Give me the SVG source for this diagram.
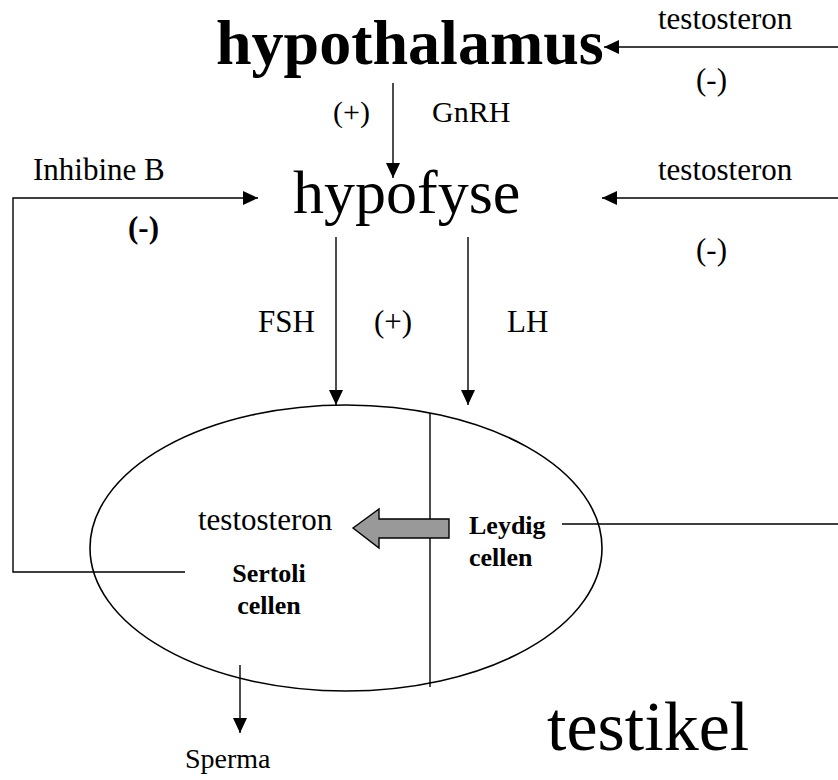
<svg xmlns="http://www.w3.org/2000/svg" width="838" height="780" viewBox="0 0 838 780">
  <style>
    text { font-family: "Liberation Serif", "Times New Roman", serif; fill: #000; }
    .lbl { font-size: 31px; }
    .bold { font-weight: bold; }
    .cell { font-size: 26px; font-weight: bold; }
    .big { font-size: 62px; }
    .line { stroke: #000; stroke-width: 1.4; fill: none; }
    .arr { stroke: #000; stroke-width: 1.4; fill: none; marker-end: url(#head); }
  </style>
  <defs>
    <marker id="head" markerUnits="userSpaceOnUse" markerWidth="16" markerHeight="14" refX="15" refY="7" orient="auto">
      <path d="M0,0 L15,7 L0,14 Z" fill="#000"/>
    </marker>
  </defs>

  <!-- hypothalamus -->
  <g id="hypothalamus">
    <text x="216" y="64" class="bold" style="font-size:64px">hypothalamus</text>
  </g>

  <!-- hypofyse -->
  <g id="hypofyse">
    <text x="293" y="213" class="big">hypofyse</text>
  </g>

  <!-- testikel with Sertoli and Leydig compartments -->
  <g id="testikel">
    <ellipse cx="346" cy="548" rx="256" ry="143" fill="none" stroke="#000" stroke-width="1.6"/>
    <line x1="430" y1="413" x2="430" y2="687" class="line"/>
    <text x="547" y="750" style="font-size:70px">testikel</text>
  </g>

  <g id="sertoli">
    <text x="269" y="582" class="cell" text-anchor="middle">Sertoli</text>
    <text x="269" y="614" class="cell" text-anchor="middle">cellen</text>
  </g>

  <g id="leydig">
    <text x="469" y="534" class="cell">Leydig</text>
    <text x="469" y="566" class="cell">cellen</text>
  </g>

  <g id="testosteron-intern">
    <text x="198" y="530" class="lbl">testosteron</text>
    <polygon points="353,528 379,509 379,519 449,519 449,538 379,538 379,548" fill="#999" stroke="#000" stroke-width="1.4"/>
  </g>

  <g id="sperma">
    <text x="185" y="768" style="font-size:28px">Sperma</text>
  </g>

  <!-- connectors -->
  <g id="connectors">
    <!-- testosteron feedback to hypothalamus -->
    <line x1="838" y1="47" x2="604" y2="47" class="arr"/>
    <!-- GnRH -->
    <line x1="393" y1="83" x2="393" y2="178" class="arr"/>
    <!-- Inhibine B feedback from Sertoli cells -->
    <polyline points="185,572 13,572 13,198 258,198" class="arr"/>
    <!-- testosteron feedback to hypofyse (from Leydig cells) -->
    <polyline points="562,524 838,524" class="line"/>
    <line x1="838" y1="198" x2="602" y2="198" class="arr"/>
    <!-- FSH and LH -->
    <line x1="336" y1="237" x2="336" y2="405" class="arr"/>
    <line x1="468" y1="237" x2="468" y2="405" class="arr"/>
    <!-- sperm output -->
    <line x1="240" y1="665" x2="240" y2="733" class="arr"/>
  </g>

  <!-- connector labels -->
  <g id="labels">
    <text x="658" y="29" class="lbl">testosteron</text>
    <text x="696" y="90" class="lbl">(-)</text>
    <text x="333" y="122" style="font-size:30px">(+)</text>
    <text x="432" y="122" style="font-size:30px">GnRH</text>
    <text x="33" y="180" class="lbl">Inhibine B</text>
    <text x="128" y="238" class="lbl bold">(-)</text>
    <text x="658" y="180" class="lbl">testosteron</text>
    <text x="696" y="260" class="lbl">(-)</text>
    <text x="258" y="332" class="lbl">FSH</text>
    <text x="374" y="332" class="lbl">(+)</text>
    <text x="507" y="332" class="lbl">LH</text>
  </g>
</svg>
